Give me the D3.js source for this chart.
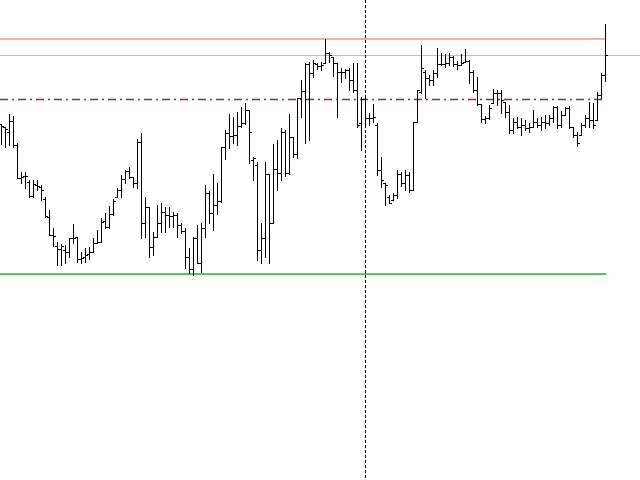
<!DOCTYPE html>
<html>
<head>
<meta charset="utf-8">
<script src="https://cdn.jsdelivr.net/npm/d3@7/dist/d3.min.js"></script>
<style>
html,body{margin:0;padding:0;background:#fff;}
svg{display:block;}
</style>
</head>
<body>
<svg id="chart" width="640" height="480"></svg>
<script>
const high = [1.2876,1.2873,1.2886,1.2884,1.2857,1.2828,1.2828,1.2820,1.2820,1.2820,1.2815,1.2803,1.2790,1.2772,1.2758,1.2756,1.2755,1.2762,1.2776,1.2763,
1.2748,1.2752,1.2753,1.2762,1.2770,1.2782,1.2787,1.2794,1.2801,1.2812,1.2825,1.2830,1.2833,1.2823,1.2861,1.2867,1.2803,1.2793,1.2768,1.2795,
1.2797,1.2793,1.2793,1.2788,1.2787,1.2777,1.2772,1.2752,1.2763,1.2775,1.2777,1.2815,1.2809,1.2826,1.2817,1.2853,1.2870,1.2886,1.2883,1.2888,
1.2893,1.2897,1.2890,1.2843,1.2838,1.2777,1.2838,1.2826,1.2856,1.2860,1.2872,1.2870,1.2886,1.2863,1.2902,1.2920,1.2937,1.2938,1.2940,1.2937,
1.2938,1.2961,1.2948,1.2943,1.2937,1.2932,1.2931,1.2932,1.2937,1.2937,1.2903,1.2905,1.2887,1.2896,1.2877,1.2843,1.2817,1.2805,1.2807,1.2830,
1.2828,1.2830,1.2828,1.2878,1.2910,1.2955,1.2930,1.2925,1.2930,1.2952,1.2947,1.2946,1.2947,1.2944,1.2939,1.2946,1.2951,1.2940,1.2930,1.2923,
1.2896,1.2884,1.2895,1.2911,1.2910,1.2910,1.2898,1.2895,1.2882,1.2883,1.2882,1.2880,1.2877,1.2890,1.2882,1.2883,1.2885,1.2885,1.2894,1.2894,
1.2889,1.2893,1.2894,1.2873,1.2868,1.2877,1.2885,1.2898,1.2897,1.2908,1.2927,1.2976];
const low = [1.2856,1.2853,1.2855,1.2853,1.2822,1.2817,1.2812,1.2803,1.2803,1.2810,1.2800,1.2783,1.2765,1.2754,1.2735,1.2735,1.2737,1.2743,1.2757,1.2738,
1.2737,1.2738,1.2741,1.2748,1.2757,1.2758,1.2772,1.2772,1.2785,1.2803,1.2803,1.2817,1.2822,1.2813,1.2812,1.2762,1.2763,1.2743,1.2745,1.2763,
1.2768,1.2768,1.2773,1.2773,1.2763,1.2767,1.2732,1.2727,1.2725,1.2737,1.2728,1.2763,1.2777,1.2770,1.2786,1.2798,1.2841,1.2852,1.2857,1.2855,
1.2873,1.2876,1.2837,1.2820,1.2740,1.2737,1.2743,1.2737,1.2777,1.2810,1.2820,1.2824,1.2826,1.2843,1.2842,1.2883,1.2857,1.2860,1.2923,1.2931,
1.2930,1.2937,1.2938,1.2924,1.2883,1.2918,1.2922,1.2910,1.2908,1.2873,1.2850,1.2875,1.2875,1.2878,1.2825,1.2813,1.2795,1.2797,1.2800,1.2802,
1.2814,1.2810,1.2808,1.2810,1.2878,1.2907,1.2902,1.2915,1.2915,1.2923,1.2935,1.2933,1.2935,1.2934,1.2931,1.2935,1.2938,1.2917,1.2908,1.2895,
1.2878,1.2877,1.2881,1.2897,1.2895,1.2887,1.2883,1.2867,1.2867,1.2872,1.2865,1.2870,1.2868,1.2873,1.2873,1.2870,1.2872,1.2875,1.2878,1.2872,
1.2873,1.2885,1.2872,1.2863,1.2854,1.2865,1.2873,1.2873,1.2872,1.2880,1.2902,1.2919];
const open = [1.2876,1.2873,1.2868,1.2879,1.2855,1.2822,1.2824,1.2818,1.2804,1.2815,1.2813,1.2801,1.2783,1.2765,1.2754,1.2751,1.2750,1.2748,1.2762,1.2763,
1.2741,1.2743,1.2746,1.2748,1.2757,1.2758,1.2779,1.2773,1.2786,1.2803,1.2810,1.2821,1.2829,1.2823,1.2817,1.2858,1.2777,1.2793,1.2753,1.2763,
1.2777,1.2788,1.2785,1.2784,1.2785,1.2775,1.2769,1.2743,1.2731,1.2762,1.2737,1.2772,1.2807,1.2787,1.2795,1.2799,1.2853,1.2867,1.2864,1.2865,
1.2874,1.2877,1.2890,1.2840,1.2835,1.2750,1.2762,1.2826,1.2777,1.2831,1.2827,1.2868,1.2827,1.2863,1.2846,1.2902,1.2909,1.2936,1.2927,1.2936,
1.2934,1.2937,1.2947,1.2943,1.2937,1.2928,1.2928,1.2930,1.2920,1.2910,1.2877,1.2901,1.2882,1.2882,1.2875,1.2830,1.2817,1.2803,1.2800,1.2805,
1.2826,1.2817,1.2825,1.2810,1.2878,1.2908,1.2928,1.2922,1.2920,1.2927,1.2936,1.2936,1.2937,1.2943,1.2936,1.2935,1.2938,1.2939,1.2928,1.2910,
1.2896,1.2881,1.2882,1.2897,1.2907,1.2907,1.2898,1.2888,1.2870,1.2878,1.2873,1.2875,1.2872,1.2873,1.2878,1.2875,1.2878,1.2877,1.2882,1.2893,
1.2875,1.2885,1.2892,1.2873,1.2865,1.2865,1.2875,1.2882,1.2880,1.2880,1.2905,1.2925];
const close = [1.2874,1.2871,1.2879,1.2855,1.2822,1.2823,1.2824,1.2804,1.2816,1.2814,1.2810,1.2784,1.2765,1.2764,1.2751,1.2754,1.2748,1.2762,1.2762,1.2741,
1.2742,1.2745,1.2748,1.2757,1.2758,1.2778,1.2773,1.2786,1.2799,1.2810,1.2821,1.2829,1.2823,1.2817,1.2858,1.2777,1.2793,1.2753,1.2763,1.2777,
1.2788,1.2785,1.2784,1.2785,1.2775,1.2769,1.2743,1.2731,1.2762,1.2737,1.2772,1.2807,1.2787,1.2795,1.2799,1.2853,1.2867,1.2864,1.2865,1.2874,
1.2877,1.2890,1.2868,1.2842,1.2750,1.2762,1.2826,1.2777,1.2831,1.2827,1.2868,1.2827,1.2863,1.2846,1.2902,1.2909,1.2936,1.2927,1.2937,1.2934,
1.2935,1.2947,1.2945,1.2937,1.2928,1.2928,1.2930,1.2920,1.2910,1.2875,1.2901,1.2882,1.2882,1.2883,1.2830,1.2820,1.2815,1.2797,1.2805,1.2826,
1.2817,1.2825,1.2810,1.2878,1.2910,1.2932,1.2922,1.2920,1.2927,1.2936,1.2936,1.2937,1.2943,1.2936,1.2935,1.2937,1.2939,1.2928,1.2910,1.2896,
1.2881,1.2882,1.2892,1.2907,1.2907,1.2900,1.2888,1.2870,1.2878,1.2873,1.2875,1.2872,1.2873,1.2878,1.2875,1.2878,1.2877,1.2882,1.2893,1.2875,
1.2885,1.2892,1.2873,1.2865,1.2857,1.2875,1.2882,1.2880,1.2875,1.2905,1.2925,1.2945];

// horizontal levels
const levelPrices = [1.2961, 1.2945, 1.2901, 1.2726];
const levelNames = ["resistance", "grid", "pivot", "support"];
const cursorIndex = 91;

const W = 640, H = 480;
const svg = d3.select("#chart");
svg.append("rect").attr("width", W).attr("height", H).attr("fill", "#ffffff");

const n = close.length;
const x = d3.scaleLinear().domain([0, n - 1]).range([1, 605]);
const y = d3.scaleLinear().domain([1.2520, 1.3000]).range([H, 0]);
const px = v => Math.round(v) + 0.5;

const levelStyle = {
  resistance: {stroke: "#ffaaaa", width: 2, dash: null, full: false},
  grid:       {stroke: "#c0c0c0", width: 1, dash: null, full: true},
  pivot:      {stroke: "#8b3030", width: 1.3, dash: "8,4,2,4", full: false},
  support:    {stroke: "#5cc45c", width: 2, dash: null, full: false}
};

const levels = levelPrices.map((p, i) => ({price: p, name: levelNames[i]}));
svg.append("g").selectAll("line").data(levels).join("line")
  .attr("x1", 0)
  .attr("x2", d => levelStyle[d.name].full ? W : x(n - 1) + 1)
  .attr("y1", d => levelStyle[d.name].width === 2 ? Math.round(y(d.price)) : px(y(d.price)))
  .attr("y2", d => levelStyle[d.name].width === 2 ? Math.round(y(d.price)) : px(y(d.price)))
  .attr("stroke", d => levelStyle[d.name].stroke)
  .attr("stroke-width", d => levelStyle[d.name].width)
  .attr("stroke-dasharray", d => levelStyle[d.name].dash);

// vertical cursor line
svg.append("line")
  .attr("x1", px(x(cursorIndex))).attr("x2", px(x(cursorIndex)))
  .attr("y1", 0).attr("y2", H)
  .attr("stroke", "#000").attr("stroke-width", 1)
  .attr("stroke-dasharray", "3,2");

const bars = d3.range(n).map(i => ({i, o: open[i], h: high[i], l: low[i], c: close[i]}));
const g = svg.append("g").attr("shape-rendering", "crispEdges");
const bar = g.selectAll("g.bar").data(bars).join("g").attr("class", "bar");
bar.append("line")
  .attr("x1", d => px(x(d.i))).attr("x2", d => px(x(d.i)))
  .attr("y1", d => Math.round(y(d.h))).attr("y2", d => Math.round(y(d.l)) + 1)
  .attr("stroke", "#000").attr("stroke-width", 1);
bar.append("line")
  .attr("x1", d => Math.round(x(d.i)) - 2).attr("x2", d => Math.round(x(d.i)))
  .attr("y1", d => px(y(d.o))).attr("y2", d => px(y(d.o)))
  .attr("stroke", "#000").attr("stroke-width", 1);
bar.append("line")
  .attr("x1", d => Math.round(x(d.i)) + 1).attr("x2", d => Math.round(x(d.i)) + 3)
  .attr("y1", d => px(y(d.c))).attr("y2", d => px(y(d.c)))
  .attr("stroke", "#000").attr("stroke-width", 1);
</script>
</body>
</html>
